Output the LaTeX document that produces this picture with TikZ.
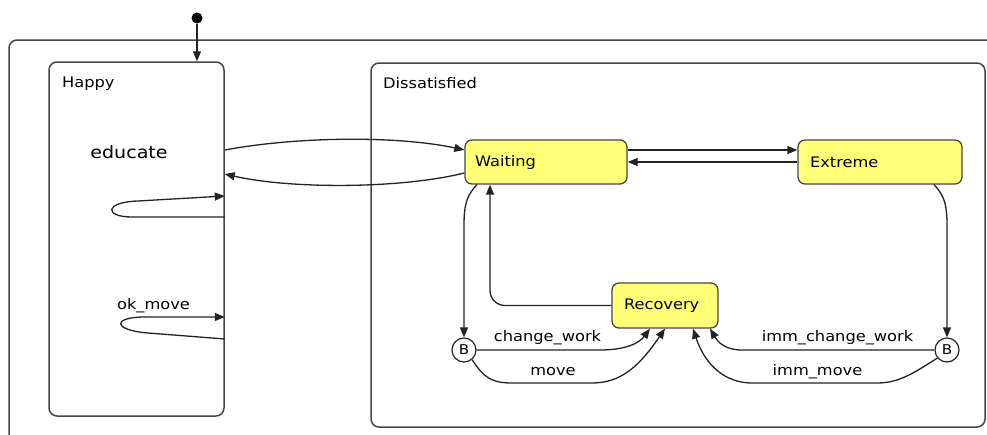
\documentclass[tikz,border=0pt]{standalone}
\usepackage{fontspec}
\setmainfont[FakeStretch=1.12]{DejaVu Sans}
\usetikzlibrary{arrows.meta,calc}
\definecolor{ln}{RGB}{35,35,35}
\definecolor{bx}{RGB}{70,70,70}
\definecolor{yel}{RGB}{255,255,120}
\begin{document}
\begin{tikzpicture}[x=1pt,y=-1pt,
  lbl/.style={font=\fontsize{14.5}{16}\selectfont, inner sep=0pt, text=black},
  region/.style={draw=bx, line width=1.5pt, rounded corners=8pt, inner sep=0pt},
  st/.style={draw=bx, fill=yel, line width=1.3pt, rounded corners=7pt, minimum height=44pt,
     font=\fontsize{14.5}{16}\selectfont, align=left, inner sep=0pt},
  bnode/.style={circle, draw=ln, fill=white, line width=1.2pt, minimum size=24pt, inner sep=0pt,
     font=\fontsize{13.5}{15}\selectfont},
  tr/.style={draw=ln, line width=1.3pt, -{Triangle[length=10pt,width=8pt]}}]
\useasboundingbox (0,0) rectangle (987,434);
\fill[white] (0,0) rectangle (987,434);
% outer region
\draw[draw=bx, line width=1.5pt, rounded corners=8pt] (9,440) -- (9,40) -- (995,40);
% regions
\node[region, minimum width=175pt, minimum height=354pt] (happy) at (136.5,239) {};
\node[lbl, anchor=west] (happylbl) at (62,84) {Happy};
\node[lbl, font=\fontsize{17}{19}\selectfont] (educate) at (129,152) {educate};
\node[region, minimum width=614pt, minimum height=364pt] (diss) at (678,245) {};
\node[lbl, anchor=west] (disslbl) at (383,83) {Dissatisfied};
% states
\node[st, minimum width=162pt, text width=142pt] (waiting) at (546,162) {Waiting};
\node[st, minimum width=164pt, text width=140pt] (extreme) at (880,162) {Extreme};
\node[st, minimum width=106pt, minimum height=45pt, text width=82pt] (recovery) at (665,305.5) {Recovery};
\node[bnode] (bl) at (464,350) {B};
\node[bnode] (br) at (947,350) {B};
% initial
\node[circle, fill=black, minimum size=11pt, inner sep=0pt] (init) at (197,18) {};
\draw[tr] (init) -- ([xshift=60.5pt]happy.north);
% Happy <-> Waiting
\draw[tr] ([yshift=89pt]happy.east) .. controls (300,136) and (400,136) .. ([yshift=12pt]waiting.west);
\draw[tr] ([yshift=-11pt]waiting.west) .. controls (400,189) and (290,189) .. ([yshift=65pt]happy.east);
% self loops on Happy
\draw[tr] ([yshift=22pt]happy.east) -- (132,217) .. controls (104,217) and (104,202) .. (138,201) -- ([yshift=43pt]happy.east);
\draw[tr] ([yshift=-100pt]happy.east) -- (148,333) .. controls (112,330) and (112,317) .. (145,317) -- ([yshift=-78pt]happy.east);
\node[lbl] (okmove) at (153.5,306) {ok\_move};
% Waiting <-> Extreme
\draw[tr] ([yshift=12pt]waiting.east) -- ([yshift=12pt]extreme.west);
\draw[tr] (extreme.west) -- (waiting.east);
% Waiting -> B left
\draw[tr] ([xshift=-69pt]waiting.south) .. controls (466,196) and (464,206) .. (464,226) -- (bl.north);
% Recovery -> Waiting
\draw[tr, rounded corners=15pt] (recovery.west) -| ([xshift=-56pt]waiting.south);
% Extreme -> B right
\draw[tr] ([xshift=54pt]extreme.south) .. controls (945,196) and (947,206) .. (947,226) -- (br.north);
% B left -> Recovery
\draw[tr] (bl.east) -- (600,350) .. controls (628,350) and (640,342) .. ([xshift=-15pt]recovery.south);
\draw[tr] (bl.-50) .. controls (484,378) and (492,383) .. (512,383) -- (592,383) .. controls (622,383) and (640,365) .. (recovery.south);
\node[lbl] (cw) at (547.5,338) {change\_work};
\node[lbl] (mv) at (553,372) {move};
% B right -> Recovery
\draw[tr] (br.west) -- (742,350) .. controls (725,350) and (718,342) .. ([xshift=45pt]recovery.south);
\draw[tr] (br.-140) .. controls (915,372) and (900,383) .. (877,383) -- (752,383) .. controls (725,383) and (705,365) .. ([xshift=28pt]recovery.south);
\node[lbl] (icw) at (837.5,338) {imm\_change\_work};
\node[lbl] (imv) at (817.5,372) {imm\_move};
\end{tikzpicture}
\end{document}
